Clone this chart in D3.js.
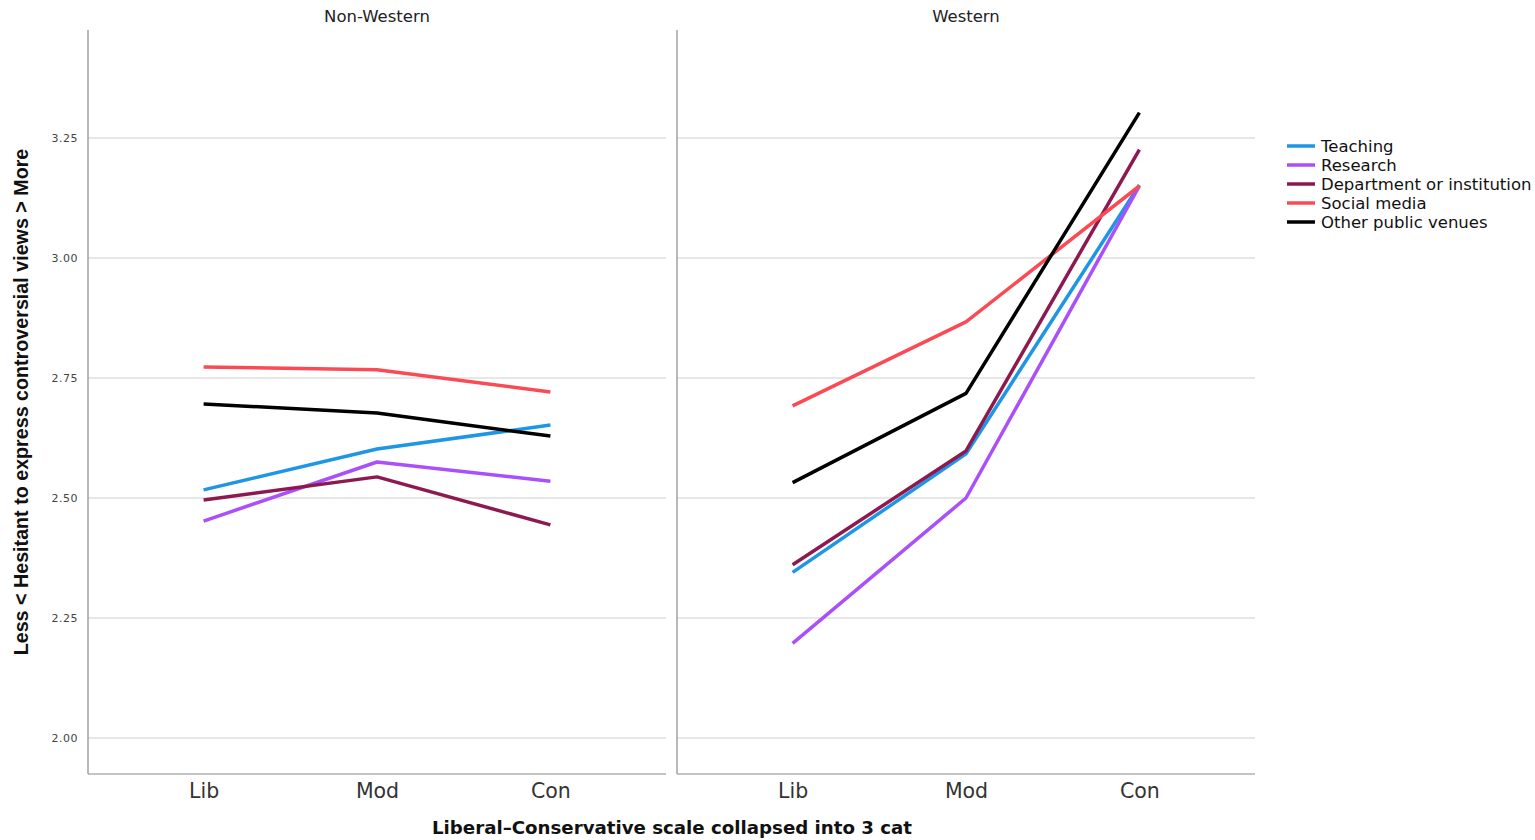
<!DOCTYPE html>
<html><head><meta charset="utf-8">
<script src="https://cdn.jsdelivr.net/npm/d3@7"></script>
<style>
html,body{margin:0;padding:0;background:#fff;}
svg{display:block;}
</style></head>
<body>
<svg id="chart" width="1535" height="840"></svg>
<script>
const categories = ["Lib", "Mod", "Con"];
const panels = ["Non-Western", "Western"];
const seriesNames = ["Teaching", "Research", "Department or institution", "Social media", "Other public venues"];
const seriesColors = ["#1e96e6", "#aa50fa", "#8c1a50", "#fa4b55", "#000000"];
const yTicks = [2.00, 2.25, 2.50, 2.75, 3.00, 3.25];
// values[panel][series] = [Lib, Mod, Con]
const nonWestern = [
  [2.517, 2.602, 2.652],
  [2.452, 2.575, 2.535],
  [2.496, 2.544, 2.444],
  [2.773, 2.767, 2.721],
  [2.696, 2.677, 2.629]
];
const western = [
  [2.345, 2.592, 3.152],
  [2.197, 2.500, 3.150],
  [2.361, 2.598, 3.226],
  [2.692, 2.867, 3.150],
  [2.532, 2.718, 3.303]
];
const panelValues = [nonWestern, western];

(function(){
const svg = d3.select("#chart");
const plotTop = 30, plotBottom = 774;
const panelX = [[88, 666], [677, 1255]];
const y = d3.scaleLinear().domain([1.925, 3.475]).range([plotBottom, plotTop]);
const FONT = "DejaVu Sans, sans-serif";

panelX.forEach((px, pi) => {
  const x = d3.scalePoint().domain(categories).range(px).padding(2/3);
  const g = svg.append("g");
  g.selectAll("line.grid").data(yTicks).join("line")
    .attr("x1", px[0]).attr("x2", px[1])
    .attr("y1", d => y(d)).attr("y2", d => y(d))
    .attr("stroke", "#cfcfcf").attr("stroke-width", 1.2);
  g.append("line").attr("x1", px[0]).attr("x2", px[0]).attr("y1", plotTop).attr("y2", plotBottom)
    .attr("stroke", "#8a8a8a").attr("stroke-width", 1.2);
  g.append("line").attr("x1", px[0]).attr("x2", px[1]).attr("y1", plotBottom).attr("y2", plotBottom)
    .attr("stroke", "#8a8a8a").attr("stroke-width", 1.2);
  const xa = g.append("g").attr("transform", `translate(0,${plotBottom})`)
    .call(d3.axisBottom(x).tickSize(0).tickPadding(10));
  xa.select(".domain").remove();
  xa.selectAll("text").attr("font-family", FONT).attr("font-size", 20.5)
    .attr("fill", "#333").attr("dy", "0.7em");
  svg.append("text").attr("x", (px[0] + px[1]) / 2).attr("y", 22).attr("text-anchor", "middle")
    .attr("font-family", FONT).attr("font-size", 16.5).attr("fill", "#222")
    .text(panels[pi]);
  const line = d3.line().x((d, i) => x(categories[i])).y(d => y(d));
  panelValues[pi].forEach((vals, si) => {
    g.append("path").datum(vals).attr("d", line).attr("fill", "none")
      .attr("stroke", seriesColors[si]).attr("stroke-width", 3.5)
      .attr("stroke-linejoin", "round");
  });
});

const ya = svg.append("g").attr("transform", `translate(${panelX[0][0]},0)`)
  .call(d3.axisLeft(y).tickValues(yTicks).tickFormat(d3.format(".2f")).tickSize(0).tickPadding(10));
ya.select(".domain").remove();
ya.selectAll("text").attr("font-family", FONT).attr("font-size", 11)
  .attr("fill", "#444").attr("letter-spacing", "0.5px");

svg.append("text").attr("transform", "translate(28,402) rotate(-90)").attr("text-anchor", "middle")
  .attr("font-family", "Liberation Sans, sans-serif").attr("font-weight", "bold")
  .attr("font-size", 19.7).attr("fill", "#111")
  .text("Less < Hesitant to express controversial views > More");

svg.append("text").attr("x", 672).attr("y", 834).attr("text-anchor", "middle")
  .attr("font-family", FONT).attr("font-weight", "bold")
  .attr("font-size", 18.2).attr("fill", "#111")
  .text("Liberal\u2013Conservative scale collapsed into 3 cat");

const lg = svg.append("g");
seriesNames.forEach((n, i) => {
  const ly = 146 + i * 19;
  lg.append("line").attr("x1", 1287).attr("x2", 1315).attr("y1", ly).attr("y2", ly)
    .attr("stroke", seriesColors[i]).attr("stroke-width", 3.5);
  lg.append("text").attr("x", 1321).attr("y", ly + 5.5)
    .attr("font-family", FONT).attr("font-size", 16.5).attr("fill", "#111")
    .text(n);
});
})();
</script>
</body></html>
